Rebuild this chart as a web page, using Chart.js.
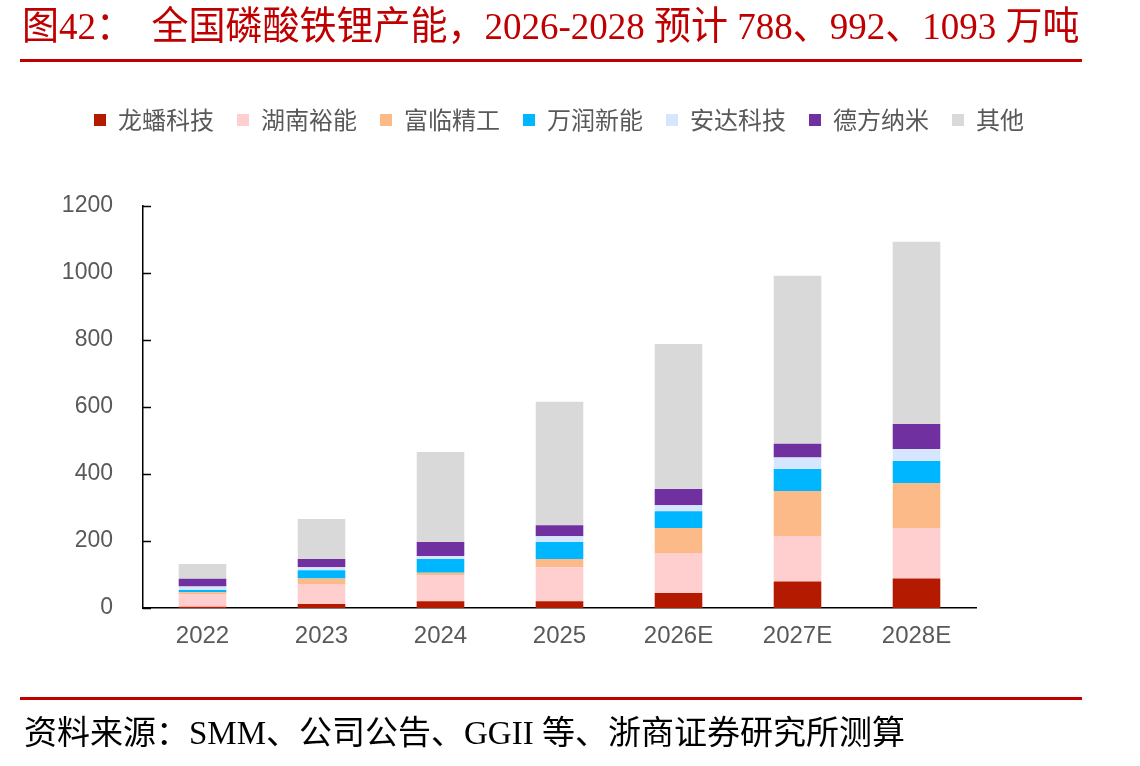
<!DOCTYPE html>
<html>
<head>
<meta charset="utf-8">
<script src="https://cdn.jsdelivr.net/npm/chart.js@4.4.1/dist/chart.umd.min.js"></script>
<style>
  html, body { margin: 0; padding: 0; background: #fff; }
  body { width: 1140px; height: 766px; position: relative; overflow: hidden; }
  #wrap { position: absolute; left: 0; top: 0; width: 1140px; height: 766px; }
  .title { position: absolute; left: 22px; top: 3px; font-family: "Liberation Serif", "Noto Sans CJK SC", serif; font-size: 37px; color: #C00000; white-space: pre; line-height: 44px; transform-origin: left top; transform: scaleY(1.05); }
  .line { position: absolute; left: 20px; width: 1062px; height: 3px; background: #C00000; }
  .source { position: absolute; left: 24px; top: 713px; font-family: "Liberation Serif", "Noto Sans CJK SC", serif; font-size: 33px; color: #000; white-space: pre; line-height: 40px; }
</style>
</head>
<body>
<div id="wrap"><canvas id="c" width="1140" height="766"></canvas></div>
<div class="title">图42：  全国磷酸铁锂产能，2026-2028 预计 788、992、1093 万吨</div>
<div class="line" style="top:59px"></div>
<div class="line" style="top:697px"></div>
<div class="source">资料来源：SMM、公司公告、GGII 等、浙商证券研究所测算</div>
<script>
const categories = ['2022', '2023', '2024', '2025', '2026E', '2027E', '2028E'];
const seriesNames = ['龙蟠科技', '湖南裕能', '富临精工', '万润新能', '安达科技', '德方纳米', '其他'];
const longpan = [4, 12, 20, 20, 45, 79, 88];
const hunanYuneng = [38, 60, 77, 102, 119, 136, 151];
const fulin = [5, 16, 8, 24, 75, 134, 134];
const wanrun = [7, 25, 41, 51, 50, 66, 66];
const anda = [10, 9, 9, 17, 18, 34, 36];
const defang = [23, 24, 42, 33, 48, 41, 74];
const others = [44, 120, 269, 369, 433, 502, 544];
const yTicks = [0, 200, 400, 600, 800, 1000, 1200];

const colors = ['#B31A00', '#FFCECE', '#FDBA89', '#00B7FF', '#D6E6FE', '#7030A0', '#D9D9D9'];
const seriesValues = [longpan, hunanYuneng, fulin, wanrun, anda, defang, others];

const datasets = seriesNames.map((name, i) => ({
  label: name,
  data: seriesValues[i],
  backgroundColor: colors[i],
  borderWidth: 0,
  barPercentage: 0.4,
  categoryPercentage: 1.0
}));

const legendFit = {
  id: 'legendFit',
  beforeInit(chart) {
    const orig = chart.legend.fit;
    chart.legend.fit = function () {
      this.maxWidth = 1140;
      orig.call(this);
      this.height = 121;
    };
  },
  beforeDraw(chart) {
    chart.legend.left = 0;
    chart.legend.right = 1118;
  }
};

const innerTicks = {
  id: 'innerTicks',
  afterDraw(chart) {
    const y = chart.scales.y;
    const ctx = chart.ctx;
    ctx.save();
    ctx.strokeStyle = '#000';
    ctx.lineWidth = 1.5;
    y.ticks.forEach(t => {
      const py = Math.round(y.getPixelForValue(t.value)) + 0.5;
      ctx.beginPath();
      ctx.moveTo(chart.chartArea.left, py);
      ctx.lineTo(chart.chartArea.left + 8, py);
      ctx.stroke();
    });
    ctx.restore();
  }
};

new Chart(document.getElementById('c'), {
  type: 'bar',
  data: { labels: categories, datasets },
  options: {
    responsive: false,
    animation: false,
    layout: { padding: { top: 85, right: 164, bottom: 98, left: 0 } },
    plugins: {
      legend: {
        position: 'top',
        labels: {
          boxWidth: 12, boxHeight: 12, padding: 23,
          color: '#595959',
          font: { family: '"Noto Sans CJK SC", sans-serif', size: 24 }
        }
      },
      tooltip: { enabled: false },
      title: { display: false }
    },
    scales: {
      x: {
        stacked: true,
        grid: { display: false, drawTicks: false },
        border: { display: true, color: '#000', width: 1.5 },
        ticks: { color: '#595959', font: { family: '"Liberation Sans", Arial, sans-serif', size: 24 }, padding: 14 },
        afterFit(s) { s.height = 60; }
      },
      y: {
        stacked: true,
        min: 0, max: 1200,
        afterBuildTicks(s) { s.ticks = yTicks.map(v => ({ value: v })); },
        grid: { display: false, drawTicks: false },
        border: { display: true, color: '#000', width: 1.5 },
        ticks: {
          color: '#595959',
          font: { family: '"Liberation Sans", Arial, sans-serif', size: 23 },
          padding: 30,
          callback: v => String(v)
        },
        afterFit(s) { s.width = 143; }
      }
    }
  },
  plugins: [legendFit, innerTicks]
});
</script>
</body>
</html>
